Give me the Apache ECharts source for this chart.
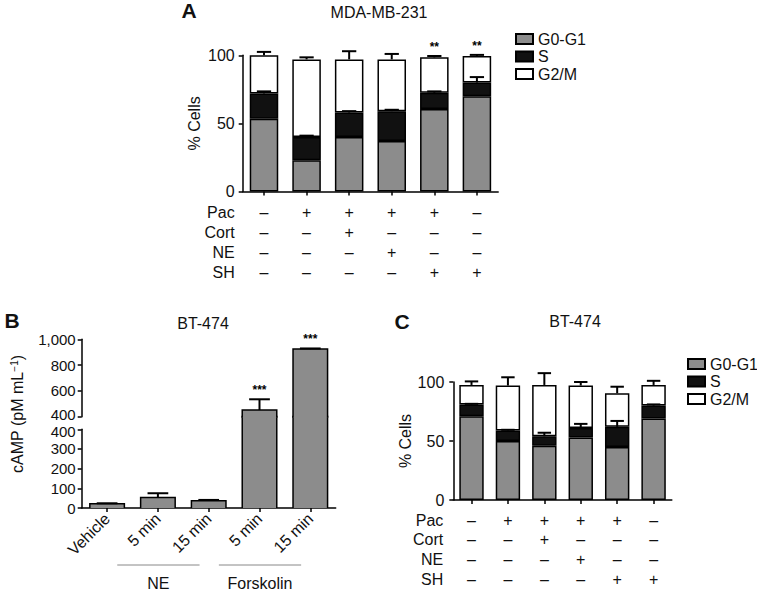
<!DOCTYPE html>
<html><head><meta charset="utf-8">
<script src="https://cdn.jsdelivr.net/npm/echarts@6/dist/echarts.min.js"></script>
<style>html,body{margin:0;padding:0;background:#fff}#c{width:757px;height:591px}</style>
</head><body><div id="c"></div>
<script>
// ---------- data ----------
const phaseNames = ['G0-G1', 'S', 'G2/M'];
const treatRows = ['Pac', 'Cort', 'NE', 'SH'];
const treatSigns = [
  ['–', '+', '+', '+', '+', '–'],
  ['–', '–', '+', '–', '–', '–'],
  ['–', '–', '–', '+', '–', '–'],
  ['–', '–', '–', '–', '+', '+']
];
// Panel A: MDA-MB-231
const aG0 = [53.5, 23, 40, 37, 60.5, 70];
const aS = [18.5, 17, 18, 22, 12, 10];
const aG2M = [28, 57, 39, 38, 26, 19.5];
const aErrS = [1.5, 1, 1, 1, 1, 4];
const aErrTotal = [2.5, 1.5, 6, 4, 1, 0.8];
const aSig = ['', '', '', '', '**', '**'];
// Panel C: BT-474
const cG0 = [71, 50, 46, 53, 45, 69];
const cS = [10, 9, 8, 8, 17, 11];
const cG2M = [16.5, 38, 43.5, 36, 28.5, 17.5];
const cErrS = [0.5, 0.5, 3, 3.5, 5, 1];
const cErrTotal = [3, 7, 10, 3, 5.5, 3.5];
// Panel B: cAMP
const bCategories = ['Vehicle', '5 min', '15 min', '5 min', '15 min'];
const bValues = [22, 54, 37, 452, 924];
const bErrors = [2, 21, 4, 83, 5];
const bSig = ['', '', '', '***', '***'];
const bGroupNames = ['NE', 'Forskolin'];
const bGroupRanges = [[1, 2], [3, 4]];
const bLowerTicks = [0, 400, 100];   // min, max, interval
const bUpperTicks = [400, 1000, 200];

// ---------- style / layout ----------
const FONT = 'Liberation Sans, Arial, sans-serif';
const GRAY = '#8c8c8c', BLACK = '#111111', WHITE = '#ffffff';
const phaseColors = [GRAY, BLACK, WHITE];
const gA = {left: 242.7, top: 55.3, width: 255.5, height: 136.2};
const gC = {left: 453.3, top: 382, width: 218.5, height: 118};
const gBl = {left: 81.7, top: 429.3, width: 254, height: 78.7};
const gBu = {left: 81.7, top: 339.3, width: 254, height: 77.4};
const B_GAP = gBl.top - (gBu.top + gBu.height);
const B_BREAK = bLowerTicks[1];
const B_BAR = 0.68;

const sum = (...arrs) => arrs[0].map((_, i) => arrs.reduce((s, a) => s + a[i], 0));

function baseAxisStyle() {
  return {
    axisLine: {show: true, lineStyle: {color: '#000', width: 1.5}},
    axisTick: {show: true, length: 4, lineStyle: {color: '#000', width: 1.5}},
    splitLine: {show: false}
  };
}

function mainX(gridIndex, data, extraLabel) {
  return Object.assign(baseAxisStyle(), {
    type: 'category', gridIndex, data, position: 'bottom',
    axisTick: {show: true, length: 4, alignWithLabel: true, lineStyle: {color: '#000', width: 1.5}},
    axisLabel: Object.assign({show: false}, extraLabel || {})
  });
}

function tableRows(gridIndex, firstOffset, step, nameGap) {
  return treatRows.map((name, k) => ({
    type: 'category', gridIndex, position: 'bottom', data: treatSigns[k],
    offset: firstOffset + step * k,
    axisLine: {show: false}, axisTick: {show: false}, splitLine: {show: false},
    axisLabel: {interval: 0, margin: 0, fontSize: 16, lineHeight: 16, color: '#111', fontFamily: FONT, verticalAlign: 'top'},
    name, nameLocation: 'start', nameGap,
    nameTextStyle: {fontSize: 16, lineHeight: 16, color: '#111', fontFamily: FONT, verticalAlign: 'top', align: 'right'}
  }));
}

function pctY(gridIndex, nameGap, margin) {
  return Object.assign(baseAxisStyle(), {
    type: 'value', gridIndex, min: 0, max: 100, interval: 50,
    axisLabel: {fontSize: 16, color: '#111', fontFamily: FONT, margin},
    name: '% Cells', nameLocation: 'middle', nameRotate: 90, nameGap,
    nameTextStyle: {fontSize: 16, color: '#111', fontFamily: FONT}
  });
}

function stackBars(xIdx, yIdx, stack, arrays) {
  return arrays.map((arr, k) => ({
    type: 'bar', name: phaseNames[k], xAxisIndex: xIdx, yAxisIndex: yIdx, stack,
    barWidth: '67%', data: arr, silent: true,
    itemStyle: {color: phaseColors[k], borderColor: '#000', borderWidth: 1.5}
  }));
}

function errSeries(xIdx, yIdx, tops, errs, sig, capRatio, barRatio) {
  return {
    type: 'custom', xAxisIndex: xIdx, yAxisIndex: yIdx, z: 5, silent: true,
    data: tops.map((t, i) => [i, t, errs[i]]),
    renderItem(params, api) {
      const i = api.value(0), t = api.value(1), e = api.value(2);
      const p0 = api.coord([i, t]), p1 = api.coord([i, t + e]);
      const w = api.size([1, 0])[0] * barRatio * capRatio;
      const st = {stroke: '#000', lineWidth: 2};
      const ch = [
        {type: 'line', shape: {x1: p0[0], y1: p0[1], x2: p1[0], y2: p1[1]}, style: st},
        {type: 'line', shape: {x1: p1[0] - w / 2, y1: p1[1], x2: p1[0] + w / 2, y2: p1[1]}, style: st}
      ];
      if (sig && sig[i]) ch.push({type: 'text', x: p1[0], y: p1[1] - 3,
        style: {text: sig[i], textAlign: 'center', textVerticalAlign: 'bottom', font: 'bold 12px ' + FONT, fill: '#000'}});
      return {type: 'group', children: ch};
    }
  };
}

function bBarSeries(xIdx, yIdx, upper) {
  return {
    type: 'custom', xAxisIndex: xIdx, yAxisIndex: yIdx, z: 3, silent: true,
    data: bValues.map((v, i) => [i, v, bErrors[i]]),
    renderItem(params, api) {
      const i = api.value(0), v = api.value(1), e = api.value(2);
      const w = api.size([1, 0])[0] * B_BAR;
      const cx = api.coord([i, 0])[0];
      const x0 = cx - w / 2, x1 = cx + w / 2;
      const st = {stroke: '#000', lineWidth: 1.5, fill: null};
      const ch = [];
      let top, bottom, closedTop;
      if (!upper) {
        bottom = api.coord([i, 0])[1];
        if (v <= B_BREAK) { top = api.coord([i, v])[1]; closedTop = true; }
        else { top = api.coord([i, B_BREAK])[1] - B_GAP - 1; closedTop = false; }
      } else {
        if (v <= B_BREAK) return {type: 'group', children: []};
        bottom = api.coord([i, B_BREAK])[1] + 1;
        top = api.coord([i, v])[1]; closedTop = true;
      }
      ch.push({type: 'rect', shape: {x: x0, y: top, width: w, height: bottom - top}, style: {fill: GRAY}});
      if (closedTop) {
        ch.push({type: 'polyline', shape: {points: [[x0, bottom], [x0, top], [x1, top], [x1, bottom]]}, style: st});
        const p1 = api.coord([i, v + e]);
        const cw = w * 0.6;
        const es = {stroke: '#000', lineWidth: 2};
        ch.push({type: 'line', shape: {x1: cx, y1: top, x2: cx, y2: p1[1]}, style: es});
        ch.push({type: 'line', shape: {x1: cx - cw / 2, y1: p1[1], x2: cx + cw / 2, y2: p1[1]}, style: es});
        if (bSig[i]) ch.push({type: 'text', x: cx, y: p1[1] - 3,
          style: {text: bSig[i], textAlign: 'center', textVerticalAlign: 'bottom', font: 'bold 12px ' + FONT, fill: '#000'}});
      } else {
        ch.push({type: 'line', shape: {x1: x0, y1: bottom, x2: x0, y2: top}, style: st});
        ch.push({type: 'line', shape: {x1: x1, y1: bottom, x2: x1, y2: top}, style: st});
      }
      return {type: 'group', children: ch};
    }
  };
}

const bGroupSeries = {
  type: 'custom', xAxisIndex: 10, yAxisIndex: 2, silent: true, z: 2,
  data: bGroupRanges,
  renderItem(params, api) {
    const s = api.value(0), e = api.value(1);
    const band = api.size([1, 0])[0];
    const p0 = api.coord([s, 0]), p1 = api.coord([e, 0]);
    const y = p0[1] + 57;
    const xa = p0[0] - 0.8 * band, xb = p1[0] - 0.18 * band;
    return {type: 'group', children: [
      {type: 'line', shape: {x1: xa, y1: y, x2: xb, y2: y}, style: {stroke: '#888', lineWidth: 1}},
      {type: 'text', x: (xa + xb) / 2, y: y + 10, style: {text: bGroupNames[params.dataIndex], textAlign: 'center', textVerticalAlign: 'top', font: '16px ' + FONT, fill: '#111'}}
    ]};
  }
};

const fmtThousands = v => v.toLocaleString('en-US');
// the two "400" labels at the axis break are nudged apart (up for the upper axis, down for the lower one)
function bLabel(breakTag) {
  return {
    fontSize: 15, lineHeight: 14, color: '#111', fontFamily: FONT, margin: 6,
    formatter: v => v === B_BREAK ? '{' + breakTag + '|' + fmtThousands(v) + '}' : fmtThousands(v),
    rich: {
      up: {fontSize: 15, lineHeight: 14, fontFamily: FONT, color: '#111', padding: [0, 0, 4, 0]},
      down: {fontSize: 15, lineHeight: 14, fontFamily: FONT, color: '#111', padding: [4, 0, 0, 0]}
    }
  };
}

const xAxes = [
  mainX(0, aG0.map((_, i) => String(i))),
  ...tableRows(0, 13.2, 20, 8),
  mainX(1, cG0.map((_, i) => String(i))),
  ...tableRows(1, 12, 19.8, 10),
  mainX(2, bCategories, {show: true, rotate: 45, interval: 0, margin: 8, fontSize: 16, color: '#111', fontFamily: FONT}),
  {type: 'category', gridIndex: 3, data: bCategories, show: false}
];

const yAxes = [
  pctY(0, 40, 8),
  pctY(1, 38, 9),
  Object.assign(baseAxisStyle(), {type: 'value', gridIndex: 2, min: bLowerTicks[0], max: bLowerTicks[1], interval: bLowerTicks[2],
    axisLabel: bLabel('down')}),
  Object.assign(baseAxisStyle(), {type: 'value', gridIndex: 3, min: bUpperTicks[0], max: bUpperTicks[1], interval: bUpperTicks[2],
    axisLabel: bLabel('up')})
];

const legendBase = {
  orient: 'vertical', data: phaseNames, icon: 'rect', itemWidth: 17, itemHeight: 10, itemGap: 1.5,
  selectedMode: false, textStyle: {fontSize: 16, lineHeight: 16, color: '#111', fontFamily: FONT}, padding: 0
};

const txt = (text, x, y, font, extra) => Object.assign({type: 'text', x, y, silent: true,
  style: {text, font, textAlign: 'center', textVerticalAlign: 'middle', fill: '#111'}}, extra || {});

const option = {
  animation: false,
  backgroundColor: '#fff',
  grid: [
    Object.assign({containLabel: false}, gA),
    Object.assign({containLabel: false}, gC),
    Object.assign({containLabel: false}, gBl),
    Object.assign({containLabel: false}, gBu)
  ],
  legend: [
    Object.assign({left: 515, top: 31}, legendBase),
    Object.assign({left: 687, top: 356}, legendBase)
  ],
  xAxis: xAxes,
  yAxis: yAxes,
  graphic: [
    txt('A', 189, 10, 'bold 21px ' + FONT),
    txt('MDA-MB-231', 379, 12, '16px ' + FONT),
    txt('B', 12, 320, 'bold 21px ' + FONT),
    txt('BT-474', 203, 323, '16px ' + FONT),
    txt('C', 402, 321, 'bold 21px ' + FONT),
    txt('BT-474', 575, 321, '16px ' + FONT),
    {type: 'text', x: 17, y: 414, rotation: Math.PI / 2, silent: true,
      style: {text: 'cAMP (pM mL{sup|−1})', font: '16px ' + FONT, fill: '#111', textAlign: 'center', textVerticalAlign: 'middle',
        rich: {sup: {fontSize: 10, verticalAlign: 'top', fontFamily: FONT}}}}
  ],
  series: [
    ...stackBars(0, 0, 'a', [aG0, aS, aG2M]),
    errSeries(0, 0, sum(aG0, aS), aErrS, null, 0.5, 0.67),
    errSeries(0, 0, sum(aG0, aS, aG2M), aErrTotal, aSig, 0.5, 0.67),
    ...stackBars(5, 1, 'c', [cG0, cS, cG2M]),
    errSeries(5, 1, sum(cG0, cS), cErrS, null, 0.55, 0.67),
    errSeries(5, 1, sum(cG0, cS, cG2M), cErrTotal, null, 0.55, 0.67),
    bBarSeries(10, 2, false),
    bBarSeries(11, 3, true),
    bGroupSeries
  ]
};

const chart = echarts.init(document.getElementById('c'), null, {renderer: 'svg'});
chart.setOption(option);
</script>
</body></html>
